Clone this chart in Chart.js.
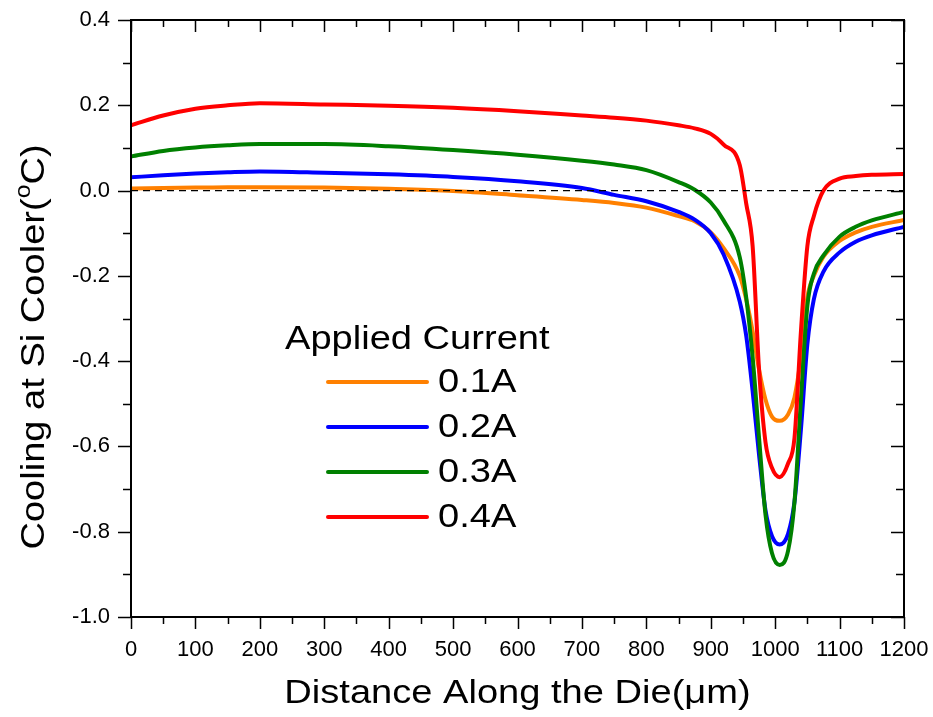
<!DOCTYPE html>
<html>
<head>
<meta charset="utf-8">
<script src="https://cdn.jsdelivr.net/npm/chart.js@4.4.1/dist/chart.umd.min.js"></script>
<style>
  body { margin: 0; background: #fff; }
  #wrap { width: 933px; height: 717px; }
</style>
</head>
<body>
<div id="wrap"><canvas id="chart"></canvas></div>
<script>
// distance along the die (um)
const distance = [0, 50, 100, 150, 200, 300, 400, 500, 600, 700, 750, 800, 850, 875, 900, 920, 945, 955, 965, 975,
                  985, 995, 1007, 1020, 1030, 1040, 1050, 1060, 1075, 1100, 1125, 1150, 1200];

const cool01 = [0.005, 0.006, 0.007, 0.008, 0.008, 0.007, 0.004, -0.001, -0.011, -0.022, -0.029, -0.04, -0.06, -0.072, -0.098, -0.135, -0.2, -0.255, -0.33, -0.42,
                -0.49, -0.53, -0.54, -0.525, -0.485, -0.39, -0.25, -0.2, -0.155, -0.118, -0.098, -0.085, -0.069];
const cool02 = [0.031, 0.036, 0.04, 0.043, 0.045, 0.042, 0.038, 0.032, 0.022, 0.006, -0.01, -0.025, -0.05, -0.068, -0.1, -0.15, -0.26, -0.34, -0.47, -0.62,
                -0.75, -0.81, -0.83, -0.805, -0.73, -0.56, -0.36, -0.255, -0.19, -0.145, -0.12, -0.105, -0.085];
const cool03 = [0.08, 0.093, 0.101, 0.106, 0.109, 0.109, 0.104, 0.095, 0.084, 0.07, 0.061, 0.048, 0.02, 0.002, -0.028, -0.07, -0.156, -0.25, -0.39, -0.58,
                -0.76, -0.85, -0.878, -0.845, -0.73, -0.49, -0.27, -0.195, -0.152, -0.108, -0.085, -0.07, -0.05];
const cool04 = [0.153, 0.176, 0.192, 0.2, 0.205, 0.202, 0.199, 0.194, 0.186, 0.176, 0.171, 0.164, 0.153, 0.146, 0.133, 0.108, 0.06, -0.03, -0.13, -0.42,
                -0.59, -0.65, -0.672, -0.64, -0.58, -0.33, -0.13, -0.06, 0.0, 0.028, 0.034, 0.037, 0.039];

const seriesNames = ['0.1A', '0.2A', '0.3A', '0.4A'];
const seriesColors = ['#ff8000', '#0000ff', '#008000', '#ff0000'];
const seriesValues = [cool01, cool02, cool03, cool04];
const drawOrder = [3, 2, 1, 0]; // red on top, orange at the bottom

const FONT = '"Liberation Sans", Arial, sans-serif';
const STRETCH = 1.12; // the reference text is a bit wider than Arial

const datasets = seriesValues.map((vals, i) => ({
    label: seriesNames[i],
    data: distance.map((x, j) => ({ x: x, y: vals[j] })),
    borderColor: seriesColors[i],
    borderWidth: 4,
    pointRadius: 0,
    fill: false,
    cubicInterpolationMode: 'monotone',
    order: drawOrder[i]
}));

// zero reference line
datasets.push({
    label: 'zero',
    data: [{ x: 0, y: 0 }, { x: 1200, y: 0 }],
    borderColor: '#000',
    borderWidth: 1.2,
    borderDash: [7, 5],
    pointRadius: 0,
    order: -1
});

function wideText(ctx, txt, x, y) {
    ctx.save();
    ctx.translate(x, y);
    ctx.scale(STRETCH, 1);
    ctx.fillText(txt, 0, 0);
    ctx.restore();
}

// frame + tick marks on all four sides
const frameTicks = {
    id: 'frameTicks',
    afterDraw(chart) {
        const { ctx, chartArea: a, scales: { x, y } } = chart;
        ctx.save();
        ctx.strokeStyle = '#000';
        ctx.lineWidth = 2;
        ctx.strokeRect(a.left, a.top, a.right - a.left, a.bottom - a.top);
        ctx.lineWidth = 1.5;
        ctx.beginPath();
        for (let v = 0; v <= 1200; v += 50) {
            const px = Math.round(x.getPixelForValue(v)) + 0.5;
            const len = v % 100 === 0 ? 12 : 7;
            ctx.moveTo(px, a.bottom); ctx.lineTo(px, a.bottom + len);
            ctx.moveTo(px, a.top); ctx.lineTo(px, a.top + len);
        }
        for (let k = -10; k <= 4; k++) {
            const py = Math.round(y.getPixelForValue(k / 10)) + 0.5;
            const len = k % 2 === 0 ? 13 : 8;
            ctx.moveTo(a.left, py); ctx.lineTo(a.left - len, py);
            ctx.moveTo(a.right, py); ctx.lineTo(a.right - len, py);
        }
        ctx.stroke();

        // axis titles
        ctx.fillStyle = '#000';
        ctx.textBaseline = 'middle';
        ctx.font = '34px ' + FONT;
        ctx.textAlign = 'center';
        wideText(ctx, 'Distance Along the Die(μm)', (a.left + a.right) / 2, 694);

        // y title, rotated, with superscript o
        const p1 = 'Cooling at Si Cooler(', sup = 'o', p2 = 'C)';
        ctx.font = '34px ' + FONT;
        const w1 = ctx.measureText(p1).width, w3 = ctx.measureText(p2).width;
        ctx.font = '22px ' + FONT;
        const w2 = ctx.measureText(sup).width;
        const total = (w1 + w2 + w3) * STRETCH;
        ctx.translate(35, 347);
        ctx.rotate(-Math.PI / 2);
        ctx.scale(STRETCH, 1);
        ctx.textAlign = 'left';
        let cx = -total / 2 / STRETCH;
        ctx.font = '34px ' + FONT;
        ctx.fillText(p1, cx, 0); cx += w1;
        ctx.font = '22px ' + FONT;
        ctx.fillText(sup, cx, -11); cx += w2;
        ctx.font = '34px ' + FONT;
        ctx.fillText(p2, cx, 0);
        ctx.restore();
    }
};

// legend drawn inside the plot
const insideLegend = {
    id: 'insideLegend',
    afterDatasetsDraw(chart) {
        const ctx = chart.ctx;
        ctx.save();
        ctx.font = '34px ' + FONT;
        ctx.fillStyle = '#000';
        ctx.textBaseline = 'middle';
        ctx.textAlign = 'left';
        wideText(ctx, 'Applied Current', 285, 340);
        seriesNames.forEach((name, i) => {
            const yy = 382 + i * 45;
            ctx.strokeStyle = seriesColors[i];
            ctx.lineWidth = 4;
            ctx.lineCap = 'round';
            ctx.beginPath();
            ctx.moveTo(328, yy);
            ctx.lineTo(427, yy);
            ctx.stroke();
            wideText(ctx, name, 438, yy + 1);
        });
        ctx.restore();
    }
};

new Chart(document.getElementById('chart'), {
    type: 'line',
    data: { datasets: datasets },
    plugins: [frameTicks, insideLegend],
    options: {
        responsive: true,
        maintainAspectRatio: false,
        animation: false,
        layout: { padding: { top: 20, right: 29, left: 0, bottom: 0 } },
        plugins: { legend: { display: false }, tooltip: { enabled: false } },
        scales: {
            x: {
                type: 'linear',
                min: 0,
                max: 1200,
                afterFit: s => { s.height = 100; s.paddingLeft = 0; s.paddingRight = 0; },
                grid: { display: false, drawTicks: false },
                border: { display: false },
                ticks: { stepSize: 100, padding: 20, color: '#000', font: { family: FONT, size: 22 },
                         callback: v => String(v) }
            },
            y: {
                min: -1.0,
                max: 0.4,
                afterFit: s => { s.width = 131; s.paddingTop = 0; s.paddingBottom = 0; },
                grid: { display: false, drawTicks: false },
                border: { display: false },
                ticks: { stepSize: 0.2, padding: 21, color: '#000', font: { family: FONT, size: 22 },
                         callback: v => (Math.abs(v) < 1e-9 ? 0 : v).toFixed(1) }
            }
        }
    }
});
</script>
</body>
</html>
